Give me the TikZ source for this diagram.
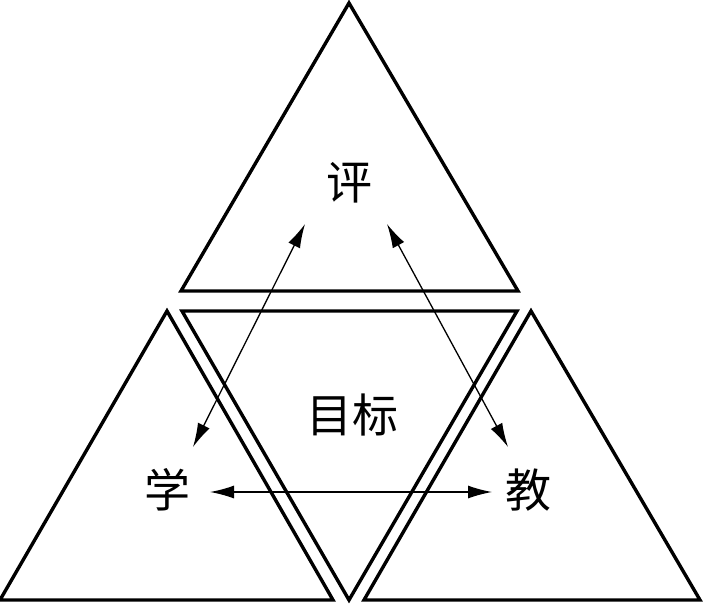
\documentclass[tikz,border=0pt]{standalone}
\usepackage{fontspec}
\newfontfamily\cjk{Noto Sans CJK SC}
\usetikzlibrary{arrows.meta}
\begin{document}
\begin{tikzpicture}[x=1pt,y=-1pt,
  tri/.style={draw,line width=3.4pt,line join=miter},
  arr/.style={draw,line width=1.3pt,{Latex[length=24pt,width=13pt]}-{Latex[length=24pt,width=13pt]}},
  lab/.style={font=\cjk\fontsize{46}{48}\selectfont}]
\useasboundingbox (0,0) rectangle (706,603);
\draw[tri] (349,3) -- (181,291) -- (518,291) -- cycle;
\draw[tri] (182,311) -- (517,311) -- (349,600) -- cycle;
\draw[tri] (167,311) -- (0,600) -- (333,600) -- cycle;
\draw[tri] (531,311) -- (364,600) -- (700,600) -- cycle;
\node[lab] (p) at (349,183) {评};
\node[lab] (m) at (352,415) {目标};
\node[lab] (x) at (167,490) {学};
\node[lab] (j) at (528,490) {教};
\coordinate (a1) at (305,224); \coordinate (a2) at (193,447);
\coordinate (b1) at (387,224); \coordinate (b2) at (508,447);
\coordinate (c1) at (210,492); \coordinate (c2) at (492,492);
\draw[arr] (a1) -- (a2);
\draw[arr] (b1) -- (b2);
\draw[arr] (c1) -- (c2);
\end{tikzpicture}
\end{document}
